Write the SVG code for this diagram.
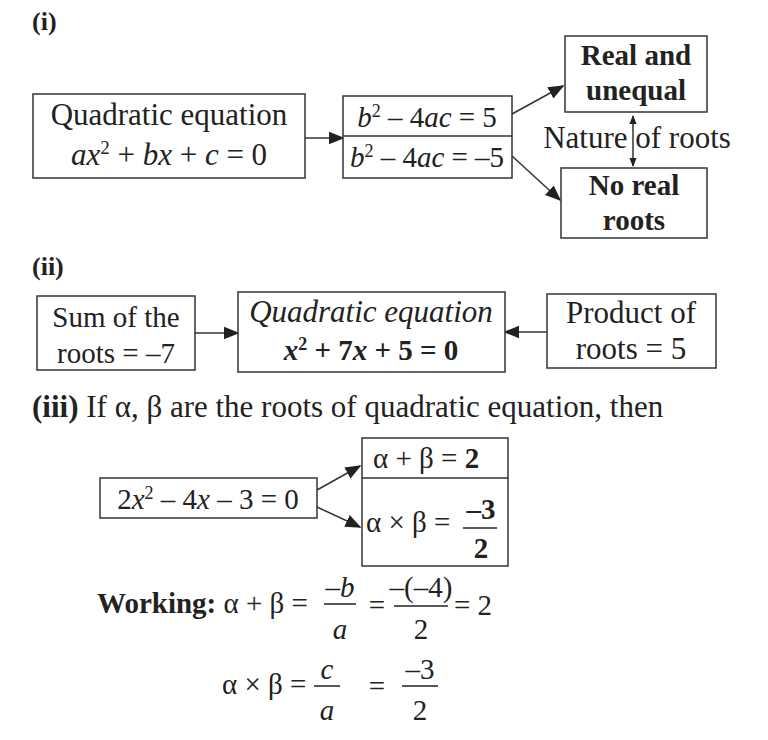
<svg xmlns="http://www.w3.org/2000/svg" width="768" height="740" viewBox="0 0 768 740">
<defs>
<marker id="ah" viewBox="0 0 10 10" refX="9" refY="5" markerWidth="9" markerHeight="9" markerUnits="userSpaceOnUse" orient="auto-start-reverse"><path d="M0,1 L10,5 L0,9 z" fill="#222"/></marker>
<marker id="ahb" viewBox="0 0 10 10" refX="9" refY="5" markerWidth="16" markerHeight="16" markerUnits="userSpaceOnUse" orient="auto-start-reverse"><path d="M0,1 L10,5 L0,9 z" fill="#222"/></marker>
</defs>
<style>
text{font-family:"Liberation Serif","DejaVu Serif",serif;font-size:31px;fill:#222}
.b{font-weight:bold}
.i{font-style:italic}
.c{text-anchor:middle}
.s{font-size:29px}
.box{fill:#fff;stroke:#333;stroke-width:1.5}
.ln{stroke:#333;stroke-width:1.5;fill:none}
.fr{stroke:#222;stroke-width:1.5}
</style>
<rect width="768" height="740" fill="#fff"/>
<text x="32" y="30" class="b" style="font-size:26px">(i)</text>
<text x="32" y="275" class="b" style="font-size:26px">(ii)</text>
<g id="connectors">
<line x1="305" y1="138" x2="343" y2="138" class="ln" marker-end="url(#ahb)"/>
<line x1="512" y1="114" x2="563" y2="86" class="ln" marker-end="url(#ahb)"/>
<line x1="512" y1="156" x2="560" y2="200" class="ln" marker-end="url(#ahb)"/>
<line x1="633" y1="116" x2="633" y2="166" class="ln" marker-start="url(#ah)" marker-end="url(#ah)"/>
<line x1="195" y1="333" x2="238" y2="333" class="ln" marker-end="url(#ahb)"/>
<line x1="547" y1="332" x2="505" y2="332" class="ln" marker-end="url(#ahb)"/>
<line x1="317" y1="490" x2="360" y2="466" class="ln" marker-end="url(#ahb)"/>
<line x1="317" y1="507" x2="360" y2="527" class="ln" marker-end="url(#ahb)"/>
</g>
<g id="quad1">
<rect x="33" y="94" width="272" height="84" class="box"/>
<text x="169" y="125" class="c">Quadratic equation</text>
<text x="169" y="165" class="c"><tspan class="i">ax</tspan><tspan dy="-11" style="font-size:19px">2</tspan><tspan dy="11"> + </tspan><tspan class="i">bx</tspan> + <tspan class="i">c</tspan> = 0</text>
</g>
<g id="disc">
<rect x="343" y="96" width="169" height="82" class="box"/>
<line x1="343" y1="136" x2="512" y2="136" class="ln"/>
<text x="427" y="127" class="c s"><tspan class="i">b</tspan><tspan dy="-10" style="font-size:18px">2</tspan><tspan dy="10"> – 4</tspan><tspan class="i">ac</tspan> = 5</text>
<text x="427" y="167" class="c s"><tspan class="i">b</tspan><tspan dy="-10" style="font-size:18px">2</tspan><tspan dy="10"> – 4</tspan><tspan class="i">ac</tspan> = –5</text>
</g>
<g id="real">
<rect x="565" y="36" width="142" height="76" class="box"/>
<text x="636" y="65" class="c b s">Real and</text>
<text x="636" y="100" class="c b s">unequal</text>
</g>
<text x="637" y="148" class="c">Nature of roots</text>
<g id="noreal">
<rect x="561" y="168" width="146" height="70" class="box"/>
<text x="634" y="195" class="c b s">No real</text>
<text x="634" y="230" class="c b s">roots</text>
</g>
<g id="sum">
<rect x="37" y="296" width="158" height="74" class="box"/>
<text x="116" y="327" class="c s">Sum of the</text>
<text x="116" y="363" class="c s">roots = –7</text>
</g>
<g id="quad2">
<rect x="238" y="292" width="267" height="80" class="box"/>
<text x="371" y="322" class="c i">Quadratic equation</text>
<text x="371" y="360" class="c b s"><tspan class="i">x</tspan><tspan dy="-10" style="font-size:18px">2</tspan><tspan dy="10"> + 7</tspan><tspan class="i">x</tspan> + 5 = 0</text>
</g>
<g id="product">
<rect x="547" y="294" width="169" height="74" class="box"/>
<text x="631" y="323" class="c">Product of</text>
<text x="631" y="359" class="c">roots = 5</text>
</g>
<text x="32" y="417"><tspan class="b">(iii)</tspan> If α, β are the roots of quadratic equation, then</text>
<g id="eq3">
<rect x="100" y="478" width="217" height="40" class="box"/>
<text x="208" y="509" class="c s">2<tspan class="i">x</tspan><tspan dy="-10" style="font-size:18px">2</tspan><tspan dy="10"> – 4</tspan><tspan class="i">x</tspan> – 3 = 0</text>
</g>
<g id="results">
<rect x="362" y="438" width="146" height="128" class="box"/>
<line x1="362" y1="478" x2="508" y2="478" class="ln"/>
<text x="373" y="468" class="s">α + β = <tspan class="b">2</tspan></text>
<text x="366" y="532" class="s">α × β =</text>
<text x="481" y="519" class="c b s">–3</text>
<line x1="463" y1="528" x2="497" y2="528" class="fr"/>
<text x="481" y="558" class="c b s">2</text>
</g>
<g id="working">
<text x="97" y="613" class="s"><tspan class="b">Working:</tspan> α + β =</text>
<text x="340" y="597" class="c i s">–b</text>
<line x1="324" y1="604" x2="356" y2="604" class="fr"/>
<text x="340" y="639" class="c i s">a</text>
<text x="377" y="615" class="c s">=</text>
<text x="421" y="597" class="c s">–(–4)</text>
<line x1="394" y1="606" x2="448" y2="606" class="fr"/>
<text x="421" y="639" class="c s">2</text>
<text x="454" y="615" class="s">= 2</text>
<text x="222" y="694" class="s">α × β =</text>
<text x="327" y="679" class="c i s">c</text>
<line x1="314" y1="686" x2="340" y2="686" class="fr"/>
<text x="327" y="720" class="c i s">a</text>
<text x="377" y="696" class="c s">=</text>
<text x="420" y="679" class="c s">–3</text>
<line x1="402" y1="686" x2="438" y2="686" class="fr"/>
<text x="420" y="720" class="c s">2</text>
</g>
</svg>
